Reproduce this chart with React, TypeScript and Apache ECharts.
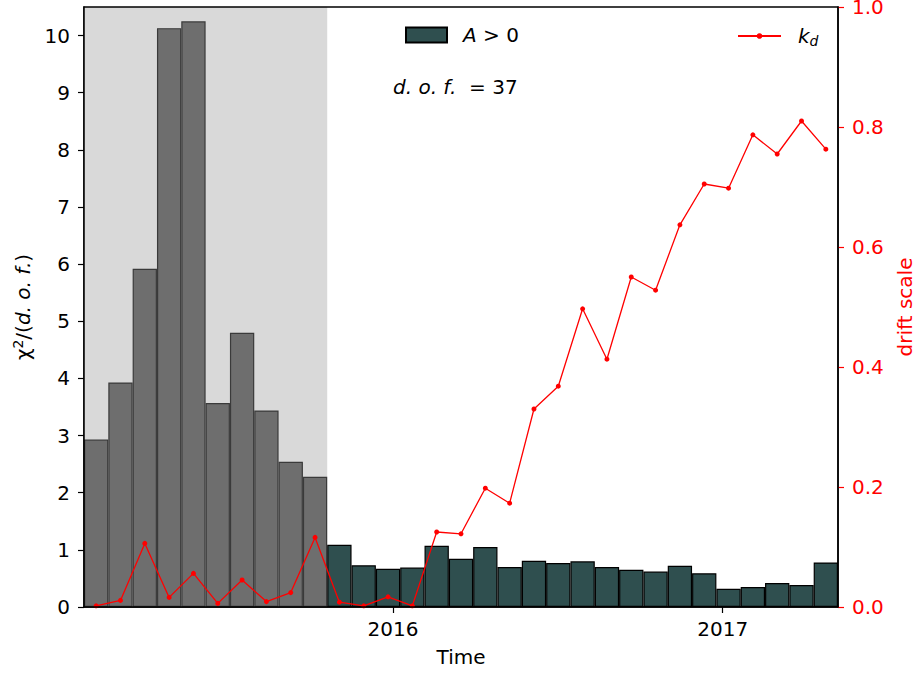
import React, { useEffect, useRef } from "react";
import * as echarts from "echarts";

// chi^2/(d.o.f.) per period, periods with A < 0 (shaded region)
const chi2Negative = [2.93, 3.93, 5.92, 10.13, 10.25, 3.57, 4.8, 3.44, 2.54, 2.28];
// chi^2/(d.o.f.) per period, periods with A > 0
const chi2Positive = [
  1.09, 0.73, 0.67, 0.69, 1.07, 0.845, 1.05, 0.7, 0.81, 0.77, 0.8, 0.7, 0.65, 0.62,
  0.72, 0.59, 0.32, 0.35, 0.42, 0.385, 0.78,
];
// drift scale k_d per period
const kd = [
  0.002, 0.011, 0.106, 0.016, 0.056, 0.006, 0.045, 0.009, 0.024, 0.116, 0.008, 0.002,
  0.017, 0.002, 0.125, 0.122, 0.198, 0.173, 0.33, 0.368, 0.497, 0.413, 0.55, 0.528,
  0.637, 0.705, 0.698, 0.787, 0.755, 0.81, 0.763,
];
const yearTicks = [2016, 2017];
const leftTicks = [0, 1, 2, 3, 4, 5, 6, 7, 8, 9, 10];
const timeMin = 2015.0629;
const timeMax = 2017.3496;
const leftMax = 10.5;

const FONT = "DejaVu Sans";

export default function App() {
  const ref = useRef<HTMLDivElement>(null);
  useEffect(() => {
    if (!ref.current) return;
    const chart = echarts.init(ref.current, undefined, { renderer: "svg" });
    const n = chi2Negative.length + chi2Positive.length;
    const categories = Array.from({ length: n }, (_, i) => String(i + 1));
    const negData = categories.map((_, i) => (i < chi2Negative.length ? chi2Negative[i] : "-"));
    const posData = categories.map((_, i) =>
      i < chi2Negative.length ? "-" : chi2Positive[i - chi2Negative.length]
    );
    const grid = { left: 84, top: 7, width: 754, height: 600 };
    const shadeWidth = (grid.width / n) * chi2Negative.length;
    chart.setOption({
      animation: false,
      textStyle: { fontFamily: FONT },
      grid: { ...grid, containLabel: false, outerBoundsMode: "none" },
      legend: [
        {
          data: ["A > 0"],
          left: 405,
          top: 25,
          padding: 0,
          itemWidth: 41,
          itemHeight: 15,
          icon: "rect",
          selectedMode: false,
          formatter: () => "{i|A} > 0",
          textStyle: {
            fontFamily: FONT,
            fontSize: 20,
            color: "#000",
            padding: [0, 0, 0, 11],
            rich: { i: { fontStyle: "italic", fontSize: 20, fontFamily: FONT } },
          },
        },
        {
          data: ["kd"],
          left: 737,
          top: 26,
          padding: 0,
          itemWidth: 43,
          itemHeight: 7,
          selectedMode: false,
          formatter: () => "{i|k}{s|d}",
          textStyle: {
            fontFamily: FONT,
            fontSize: 20,
            color: "#000",
            padding: [0, 0, 0, 12],
            rich: {
              i: { fontStyle: "italic", fontSize: 20, fontFamily: FONT },
              s: { fontStyle: "italic", fontSize: 14, fontFamily: FONT, padding: [10, 0, 0, 0] },
            },
          },
        },
      ],
      xAxis: [
        {
          type: "category",
          data: categories,
          position: "bottom",
          boundaryGap: true,
          axisLine: { show: true, lineStyle: { color: "#000", width: 1.5 } },
          axisTick: { show: false },
          axisLabel: { show: false },
          splitLine: { show: false },
        },
        {
          type: "value",
          position: "bottom",
          min: timeMin,
          max: timeMax,
          name: "Time",
          nameLocation: "middle",
          nameGap: 40,
          nameTextStyle: { fontFamily: FONT, fontSize: 20, color: "#000" },
          axisLine: { show: false },
          axisTick: {
            show: true,
            customValues: yearTicks,
            length: 6,
            lineStyle: { color: "#000", width: 1.2 },
          },
          axisLabel: {
            customValues: yearTicks,
            fontFamily: FONT,
            fontSize: 20,
            color: "#000",
            margin: 12,
            formatter: (v: number) => String(Math.round(v)),
          },
          splitLine: { show: false },
        },
      ],
      yAxis: [
        {
          type: "value",
          min: 0,
          max: leftMax,
          position: "left",
          name: "{n|χ}{p|2}{n|/(}{i|d. o. f.}{n|)}",
          nameLocation: "middle",
          nameRotate: 90,
          nameGap: 50,
          nameTextStyle: {
            fontFamily: FONT,
            fontSize: 20,
            color: "#000",
            rich: {
              n: { fontFamily: FONT, fontSize: 20, color: "#000" },
              i: { fontFamily: FONT, fontSize: 20, fontStyle: "italic", color: "#000" },
              p: { fontFamily: FONT, fontSize: 14, color: "#000", padding: [0, 0, 9, 0] },
            },
          },
          axisLine: { show: true, lineStyle: { color: "#000", width: 1.5 } },
          axisTick: {
            show: true,
            customValues: leftTicks,
            length: 6,
            lineStyle: { color: "#000", width: 1.2 },
          },
          axisLabel: {
            customValues: leftTicks,
            fontFamily: FONT,
            fontSize: 20,
            color: "#000",
            margin: 14,
          },
          splitLine: { show: false },
        },
        {
          type: "value",
          min: 0,
          max: 1,
          interval: 0.2,
          position: "right",
          name: "drift scale",
          nameLocation: "middle",
          nameRotate: 90,
          nameGap: 52,
          nameTextStyle: { fontFamily: FONT, fontSize: 20, color: "#ff0000" },
          axisLine: { show: true, lineStyle: { color: "#000", width: 1.5 } },
          axisTick: { show: true, length: 6, lineStyle: { color: "#ff0000", width: 1.2 } },
          axisLabel: {
            fontFamily: FONT,
            fontSize: 20,
            color: "#ff0000",
            margin: 14,
            formatter: (v: number) => v.toFixed(1),
          },
          splitLine: { show: false },
        },
      ],
      series: [
        {
          name: "A < 0",
          type: "bar",
          xAxisIndex: 0,
          yAxisIndex: 0,
          data: negData,
          barGap: "-100%",
          barCategoryGap: "0%",
          itemStyle: { color: "#6e6e6e", borderColor: "#3a3a3a", borderWidth: 1.2 },
          z: 2,
        },
        {
          name: "A > 0",
          type: "bar",
          xAxisIndex: 0,
          yAxisIndex: 0,
          data: posData,
          barGap: "-100%",
          barCategoryGap: "0%",
          itemStyle: { color: "#2f4f4f", borderColor: "#000", borderWidth: 1.2 },
          z: 2,
        },
        {
          name: "kd",
          type: "line",
          xAxisIndex: 0,
          yAxisIndex: 1,
          data: kd,
          symbol: "circle",
          symbolSize: 5,
          lineStyle: { color: "#ff0000", width: 1.3 },
          itemStyle: { color: "#ff0000" },
          z: 5,
        },
      ],
      graphic: [
        {
          type: "rect",
          shape: { x: grid.left, y: grid.top, width: shadeWidth, height: grid.height },
          style: { fill: "#d9d9d9" },
          z: 1,
          silent: true,
        },
        {
          type: "rect",
          shape: { x: grid.left, y: grid.top, width: grid.width, height: grid.height },
          style: { fill: "none", stroke: "#000", lineWidth: 1.5 },
          z: 100,
          silent: true,
        },
        {
          type: "text",
          left: 393,
          top: 77,
          style: {
            text: "{i|d. o. f.}  = 37",
            fontFamily: FONT,
            fontSize: 20,
            fill: "#000",
            rich: { i: { fontFamily: FONT, fontSize: 20, fontStyle: "italic", fill: "#000" } },
          },
          z: 100,
        },
      ],
    });
    return () => chart.dispose();
  }, []);
  return <div ref={ref} style={{ width: 913, height: 675, position: "absolute", left: 0, top: 0 }} />;
}
